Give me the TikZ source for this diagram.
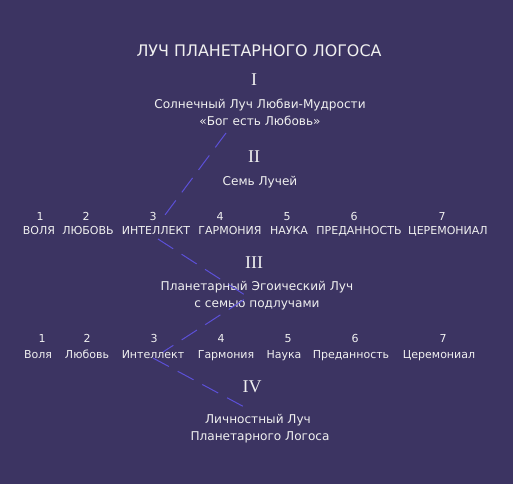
\documentclass[tikz,border=0pt]{standalone}
\usepackage{fontspec}
\setmainfont{DejaVu Sans}
\newfontfamily\romanfont{Liberation Serif}
\usetikzlibrary{positioning}
\definecolor{bgpurple}{HTML}{3C3462}
\definecolor{raycol}{HTML}{5C50D8}
\definecolor{txtwhite}{HTML}{F0F0F0}

\begin{document}
\begin{tikzpicture}[x=1pt,y=-1pt,
   txt/.style={text=txtwhite,font=\fontsize{11}{13}\selectfont,inner sep=0pt,anchor=base},
   caption/.style={txt,font=\fontsize{12.1}{14}\selectfont},
   numeral/.style={text=txtwhite,font=\romanfont\fontsize{18}{18}\selectfont,inner sep=0pt,anchor=base},
   ray/.style={raycol,line width=1pt,dash pattern=on 18pt off 10pt}]
 \fill[bgpurple] (0,0) rectangle (513,484);
 \useasboundingbox (0,0) rectangle (513,484);

 \node[txt,font=\fontsize{15.9}{18}\selectfont] (title) at (259,57) {ЛУЧ ПЛАНЕТАРНОГО ЛОГОСА};

 \node[numeral] (rom1) at (254,85) {I};
 \node[caption] (solar1) at (260,109) {Солнечный Луч Любви-Мудрости};
 \node[caption] (solar2) at (260,125) {«Бог есть Любовь»};

 \node[numeral] (rom2) at (254,162) {II};
 \node[caption] (seven) at (260,185) {Семь Лучей};

 \foreach \i/\nx/\wx/\name in {1/40/39/ВОЛЯ,2/86/88/ЛЮБОВЬ,3/153/156/ИНТЕЛЛЕКТ,
    4/220/230/ГАРМОНИЯ,5/287/289/НАУКА,6/354/359/ПРЕДАННОСТЬ,7/442/448/ЦЕРЕМОНИАЛ}
 {\node[txt] (numA-\i) at (\nx,220) {\i};
  \node[txt] (rayA-\i) at (\wx,234) {\name};}

 \node[numeral] (rom3) at (254,268) {III};
 \node[caption] (egoic1) at (257,290) {Планетарный Эгоический Луч};
 \node[caption] (egoic2) at (257,307) {с семью подлучами};

 \foreach \i/\nx/\wx/\name in {1/42/38/Воля,2/87/87/Любовь,3/154/153/Интеллект,
    4/221/226/Гармония,5/288/284/Наука,6/355/351/Преданность,7/443/439/Церемониал}
 {\node[txt] (numB-\i) at (\nx,342) {\i};
  \node[txt] (rayB-\i) at (\wx,358) {\name};}

 \node[numeral] (rom4) at (252,392) {IV};
 \node[caption] (pers1) at (258,423) {Личностный Луч};
 \node[caption] (pers2) at (260,440) {Планетарного Логоса};

 % path of the ray
 \coordinate (a0) at (226,133);
 \coordinate (a1) at (159,223);
 \coordinate (b0) at (158,239);
 \coordinate (b1) at (248,297);
 \coordinate (b2) at (163,352);
 \coordinate (c0) at (153,358);
 \coordinate (c1) at (248,409);
 \draw[ray] (a0) -- (a1);
 \draw[ray] (b0) -- (b1) -- (b2);
 \draw[ray] (c0) -- (c1);
\end{tikzpicture}
\end{document}
